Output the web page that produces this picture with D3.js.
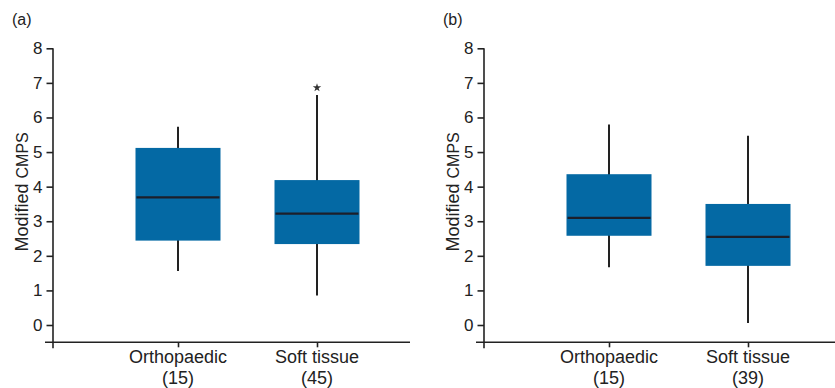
<!DOCTYPE html>
<html>
<head>
<meta charset="utf-8">
<script src="https://cdn.jsdelivr.net/npm/d3@7"></script>
<style>
  html, body { margin: 0; padding: 0; background: #fff; }
  svg { display: block; font-family: "Liberation Sans", Arial, sans-serif; }
</style>
</head>
<body>
<svg id="chart" width="835" height="388"></svg>
<script>
// ---- Data ----
const panelLabels = ["(a)", "(b)"];
const categories = ["Orthopaedic", "Soft tissue"];
const countsA = ["(15)", "(45)"];
const countsB = ["(15)", "(39)"];
// [whiskerLow, q1, median, q3, whiskerHigh]
const boxesA = [
  [1.56, 2.44, 3.69, 5.12, 5.73],
  [0.85, 2.34, 3.22, 4.19, 6.65]
];
const boxesB = [
  [1.67, 2.58, 3.10, 4.36, 5.80],
  [0.06, 1.71, 2.55, 3.50, 5.47]
];
const outliersA = [[], [6.86]];
const outliersB = [[], []];
const yTicks = [0, 1, 2, 3, 4, 5, 6, 7, 8];
const yTitleMain = "Modified ";
const yTitleSmall = "CMPS";

// ---- Drawing ----
const svg = d3.select("#chart");
const boxColor = "#0469a4";
const ink = "#222";

const yScale = d3.scaleLinear().domain([-0.5, 8]).range([342.3, 48.3]);

function drawPanel(ox, xEnd, label, boxes, counts, outliers) {
  const g = svg.append("g");
  const axisX = ox;
  const x = d3.scalePoint().domain(categories).range([axisX + 125, axisX + 264]);
  const boxW = 85;

  // panel label
  g.append("text").attr("x", ox - 41).attr("y", 25)
    .attr("font-size", 16).attr("fill", ink).text(label);

  // y axis
  const yAxis = d3.axisLeft(yScale).tickValues(yTicks).tickSize(6.5).tickPadding(4)
    .tickFormat(d3.format("d"));
  const ya = g.append("g").attr("transform", `translate(${axisX},0)`).call(yAxis);
  ya.select(".domain").remove();
  ya.selectAll(".tick line").attr("stroke", ink).attr("stroke-width", 1.6);
  ya.selectAll(".tick text").attr("font-size", 17).attr("fill", ink)
    .attr("font-family", "Liberation Sans, Arial, sans-serif");
  // vertical axis line (extends below x axis)
  g.append("line").attr("x1", axisX).attr("x2", axisX)
    .attr("y1", yScale(8)).attr("y2", yScale(-0.5) + 6)
    .attr("stroke", ink).attr("stroke-width", 1.6);

  // x axis
  const xAxis = d3.axisBottom(x).tickSize(5).tickFormat("");
  const xa = g.append("g").attr("transform", `translate(0,${yScale(-0.5)})`).call(xAxis);
  xa.select(".domain").remove();
  xa.selectAll(".tick line").attr("stroke", ink).attr("stroke-width", 1.6);
  g.append("line").attr("x1", axisX - 8).attr("x2", xEnd)
    .attr("y1", yScale(-0.5)).attr("y2", yScale(-0.5))
    .attr("stroke", ink).attr("stroke-width", 1.6);

  // category labels
  categories.forEach((c, i) => {
    const t = g.append("text").attr("text-anchor", "middle")
      .attr("font-size", 18).attr("fill", ink);
    t.append("tspan").attr("x", x(c)).attr("y", 363).text(c);
    t.append("tspan").attr("x", x(c)).attr("y", 383.5).text(counts[i]);
  });

  // y title
  const yt = g.append("text")
    .attr("transform", `translate(${axisX - 25},${yScale(3.85)}) rotate(-90)`)
    .attr("text-anchor", "middle").attr("fill", ink);
  yt.append("tspan").attr("font-size", 18).text(yTitleMain);
  yt.append("tspan").attr("font-size", 16).text(yTitleSmall);

  // boxes
  boxes.forEach((b, i) => {
    const cx = x(categories[i]);
    const [lo, q1, med, q3, hi] = b;
    g.append("line").attr("x1", cx).attr("x2", cx)
      .attr("y1", yScale(lo)).attr("y2", yScale(hi))
      .attr("stroke", ink).attr("stroke-width", 2);
    g.append("rect").attr("x", cx - boxW / 2).attr("width", boxW)
      .attr("y", yScale(q3)).attr("height", yScale(q1) - yScale(q3))
      .attr("fill", boxColor);
    g.append("line").attr("x1", cx - boxW / 2 + 1).attr("x2", cx + boxW / 2 - 1)
      .attr("y1", yScale(med)).attr("y2", yScale(med))
      .attr("stroke", "#1c1f2a").attr("stroke-width", 2.2);
    outliers[i].forEach(v => {
      g.append("path")
        .attr("d", d3.symbol().type(d3.symbolStar).size(22)())
        .attr("transform", `translate(${cx},${yScale(v)})`)
        .attr("fill", "#333");
    });
  });
}

drawPanel(53, 410, panelLabels[0], boxesA, countsA, outliersA);
drawPanel(484, 835, panelLabels[1], boxesB, countsB, outliersB);
</script>
</body>
</html>
